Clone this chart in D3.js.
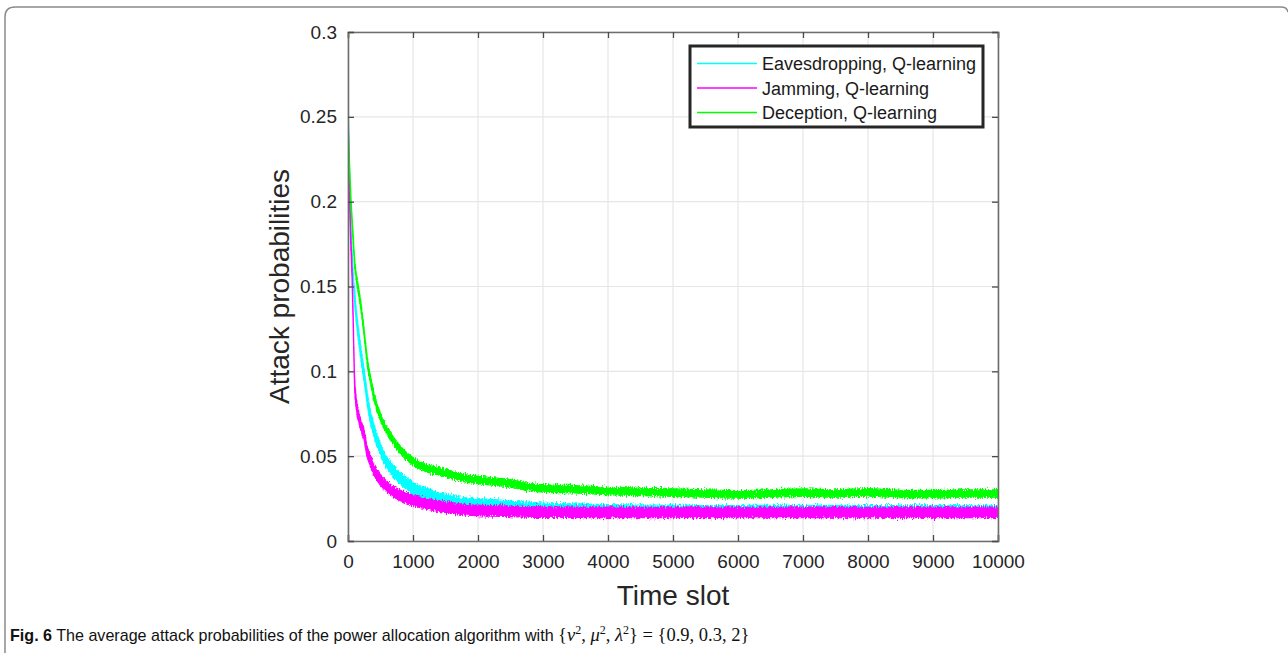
<!DOCTYPE html>
<html>
<head>
<meta charset="utf-8">
<script src="https://cdn.jsdelivr.net/npm/d3@7"></script>
<style>
  html, body { margin: 0; padding: 0; background: #fff; }
  svg { display: block; }
</style>
</head>
<body>
<svg id="chart" width="1288" height="653"></svg>
<script>
// ---- data ----
const timeSlots = [0, 20, 40, 60, 80, 100, 130, 160, 200, 250, 300, 350, 400, 500, 600, 700, 800, 900, 1000,
  1200, 1400, 1600, 1800, 2000, 2250, 2500, 2750, 3000, 3500, 4000, 4500, 5000, 5500, 6000, 6500,
  7000, 7500, 8000, 8500, 9000, 9500, 10000];
const eavesdropping = [0.26, 0.22, 0.19, 0.17, 0.155, 0.145, 0.132, 0.122, 0.11, 0.097, 0.083, 0.072, 0.065, 0.054, 0.046, 0.041, 0.037, 0.034, 0.031,
  0.028, 0.025, 0.0235, 0.022, 0.0215, 0.021, 0.02, 0.0195, 0.019, 0.0185, 0.018, 0.0178, 0.0176, 0.0175, 0.0175, 0.0176,
  0.0175, 0.0176, 0.0175, 0.0175, 0.0174, 0.0175, 0.0176];
const jamming = [0.255, 0.21, 0.18, 0.16, 0.13, 0.095, 0.08, 0.074, 0.068, 0.062, 0.052, 0.047, 0.042, 0.036, 0.032, 0.029, 0.027, 0.0255, 0.024,
  0.022, 0.0205, 0.0195, 0.0185, 0.018, 0.0177, 0.0175, 0.0172, 0.017, 0.0169, 0.0169, 0.0168, 0.0168, 0.0169, 0.0168, 0.0168,
  0.0169, 0.0168, 0.0168, 0.0168, 0.0169, 0.0168, 0.0169];
const deception = [0.245, 0.225, 0.205, 0.19, 0.178, 0.165, 0.155, 0.148, 0.138, 0.122, 0.105, 0.094, 0.085, 0.073, 0.065, 0.059, 0.054, 0.05, 0.047,
  0.043, 0.041, 0.039, 0.037, 0.036, 0.035, 0.034, 0.032, 0.031, 0.0305, 0.0295, 0.029, 0.0285, 0.028, 0.0275, 0.028,
  0.0285, 0.028, 0.0287, 0.0277, 0.0276, 0.028, 0.028];
// half width of the noise band around each curve (probability units)
const noiseEavesdropping = 0.0034;
const noiseJamming = 0.0031;
const noiseDeception = 0.0022;

const seriesNames = ["Eavesdropping, Q-learning", "Jamming, Q-learning", "Deception, Q-learning"];
const xTicks = [0, 1000, 2000, 3000, 4000, 5000, 6000, 7000, 8000, 9000, 10000];
const yTicks = [0, 0.05, 0.1, 0.15, 0.2, 0.25, 0.3];
const yTickLabels = ["0", "0.05", "0.1", "0.15", "0.2", "0.25", "0.3"];

// ---- layout ----
const svg = d3.select("#chart");
const plot = { left: 348, right: 998, top: 32, bottom: 541 };
const colors = ["#00ffff", "#ff00ff", "#00ff00"];
const fontSans = "'Liberation Sans', Arial, Helvetica, sans-serif";

// outer frame (journal figure box)
svg.append("path")
  .attr("d", "M5,653 L5,17 Q5,7 15,7 L1281,7 Q1287,7 1288,12")
  .attr("fill", "none").attr("stroke", "#8a8a8a").attr("stroke-width", 1.5);

// jagged-edge texture filter for the noisy traces
const defs = svg.append("defs");
const filt = defs.append("filter").attr("id", "jag")
  .attr("filterUnits", "userSpaceOnUse")
  .attr("x", 300).attr("y", 0).attr("width", 750).attr("height", 600);
filt.append("feTurbulence").attr("type", "fractalNoise")
  .attr("baseFrequency", "0.9 0.35").attr("numOctaves", 2).attr("seed", 7).attr("result", "n");
filt.append("feColorMatrix").attr("in", "n").attr("type", "matrix")
  .attr("values", "0 0 0 0 0.5  0 1 0 0 0  0 0 0 0 0  0 0 0 0 1").attr("result", "m");
filt.append("feDisplacementMap").attr("in", "SourceGraphic").attr("in2", "m")
  .attr("scale", 7).attr("xChannelSelector", "R").attr("yChannelSelector", "G");

const x = d3.scaleLinear().domain([0, 10000]).range([plot.left, plot.right]);
const y = d3.scaleLinear().domain([0, 0.3]).range([plot.bottom, plot.top]);

// grid
const grid = svg.append("g");
grid.selectAll("line.gx").data(xTicks).join("line").attr("class", "gx")
  .attr("x1", d => x(d)).attr("x2", d => x(d))
  .attr("y1", plot.top).attr("y2", plot.bottom)
  .attr("stroke", "#e6e6e6").attr("stroke-width", 1.2);
grid.selectAll("line.gy").data(yTicks).join("line").attr("class", "gy")
  .attr("y1", d => y(d)).attr("y2", d => y(d))
  .attr("x1", plot.left).attr("x2", plot.right)
  .attr("stroke", "#e6e6e6").attr("stroke-width", 1.2);

// clip
defs.append("clipPath").attr("id", "clip").append("rect")
  .attr("x", plot.left).attr("y", plot.top)
  .attr("width", plot.right - plot.left).attr("height", plot.bottom - plot.top);

const series = [
  { values: eavesdropping, noise: noiseEavesdropping, color: colors[0] },
  { values: jamming, noise: noiseJamming, color: colors[1] },
  { values: deception, noise: noiseDeception, color: colors[2] }
];

const lines = svg.append("g").attr("clip-path", "url(#clip)")
  .append("g").attr("filter", "url(#jag)");
series.forEach(s => {
  const pts = timeSlots.map((t, i) => ({ t, v: s.values[i] }));
  const area = d3.area()
    .x(d => x(d.t))
    .y0(d => y(d.v - s.noise))
    .y1(d => y(d.v + s.noise))
    .curve(d3.curveMonotoneX);
  lines.append("path").datum(pts)
    .attr("d", area)
    .attr("fill", s.color)
    .attr("stroke", s.color)
    .attr("stroke-width", 1.2);
});

// axes (box on, inward ticks)
const axisColor = "#262626";
const gx = svg.append("g").attr("transform", `translate(0,${plot.bottom})`)
  .call(d3.axisBottom(x).tickValues(xTicks).tickSize(-6).tickPadding(14).tickFormat(d3.format("d")));
const gxTop = svg.append("g").attr("transform", `translate(0,${plot.top})`)
  .call(d3.axisTop(x).tickValues(xTicks).tickSize(-6).tickFormat(""));
const gy = svg.append("g").attr("transform", `translate(${plot.left},0)`)
  .call(d3.axisLeft(y).tickValues(yTicks).tickSize(-6).tickPadding(11).tickFormat((d, i) => yTickLabels[i]));
const gyRight = svg.append("g").attr("transform", `translate(${plot.right},0)`)
  .call(d3.axisRight(y).tickValues(yTicks).tickSize(-6).tickFormat(""));

[gx, gxTop, gy, gyRight].forEach(g => {
  g.select(".domain").attr("stroke", "#6e6e6e").attr("stroke-width", 1.6);
  g.selectAll(".tick line").attr("stroke", "#4a4a4a").attr("stroke-width", 1.3);
  g.selectAll("text").attr("fill", axisColor).style("font-family", fontSans).style("font-size", "19px");
});

// axis titles
svg.append("text")
  .attr("x", (plot.left + plot.right) / 2).attr("y", 605)
  .attr("text-anchor", "middle")
  .style("font-family", fontSans).style("font-size", "28px").attr("fill", axisColor)
  .text("Time slot");
svg.append("text")
  .attr("transform", `translate(289,${(plot.top + plot.bottom) / 2}) rotate(-90)`)
  .attr("text-anchor", "middle")
  .style("font-family", fontSans).style("font-size", "28px").attr("fill", axisColor)
  .text("Attack probabilities");

// legend
const lg = svg.append("g");
lg.append("rect")
  .attr("x", 690).attr("y", 46).attr("width", 293).attr("height", 81)
  .attr("fill", "#fff").attr("stroke", "#262626").attr("stroke-width", 3);
seriesNames.forEach((name, i) => {
  const ly = 63.5 + i * 24.5;
  lg.append("rect").attr("x", 697).attr("y", ly - 0.75).attr("width", 60).attr("height", 1.5)
    .attr("fill", colors[i]);
  lg.append("text").attr("x", 762).attr("y", ly + 6.5)
    .style("font-family", fontSans).style("font-size", "18px").attr("fill", "#1a1a1a")
    .text(name);
});

// caption
const cap = svg.append("text").attr("x", 10).attr("y", 641)
  .style("font-family", "'Liberation Sans Narrow', 'Liberation Sans', sans-serif")
  .style("font-size", "16.1px").attr("fill", "#111");
cap.append("tspan").style("font-weight", "bold").text("Fig. 6");
cap.append("tspan").text(" The average attack probabilities of the power allocation algorithm with ");
const serif = "'Liberation Serif', 'DejaVu Serif', serif";
const mathParts = [
  ["{", false, false], ["ν", true, false], ["2", false, true], [", ", false, false],
  ["μ", true, false], ["2", false, true], [", ", false, false],
  ["λ", true, false], ["2", false, true], ["} = {0.9, 0.3, 2}", false, false]
];
let raised = false;
mathParts.forEach(([t, it, sup]) => {
  const ts = cap.append("tspan").style("font-family", serif).text(t);
  if (sup) { ts.style("font-size", "12px").attr("dy", -7); raised = true; }
  else {
    ts.style("font-size", "18.5px");
    if (it) ts.style("font-style", "italic");
    if (raised) { ts.attr("dy", 7); raised = false; }
  }
});
</script>
</body>
</html>
